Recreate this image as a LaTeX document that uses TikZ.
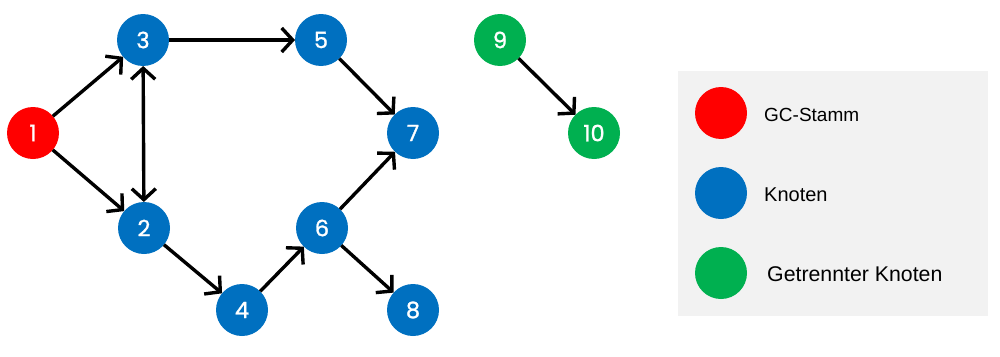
\documentclass[tikz,border=0pt]{standalone}
\usepackage{fontspec}
\setmainfont{Liberation Sans}
\newfontfamily\numfont{Poppins}[FakeBold=1.2]
\usetikzlibrary{arrows.meta}
\definecolor{gcred}{HTML}{FF0000}
\definecolor{kblue}{HTML}{0070C0}
\definecolor{kgreen}{HTML}{00B050}
\definecolor{legbg}{HTML}{F2F2F2}
\tikzset{
  vtx/.style={circle,minimum size=52pt,inner sep=0pt,outer sep=0pt,text=white,font=\numfont\fontsize{22.5pt}{22.5pt}\selectfont},
  redv/.style={vtx,fill=gcred},
  bluev/.style={vtx,fill=kblue},
  greenv/.style={vtx,fill=kgreen},
  barb/.tip={Straight Barb[length=11pt,width=24pt,line width=3.4pt]},
  edge/.style={line width=3.4pt,-barb},
  biedge/.style={line width=3.4pt,barb-barb},
  legtxt/.style={anchor=west,inner sep=0pt}
}
\begin{document}
\begin{tikzpicture}[x=1pt,y=-1pt]
\useasboundingbox (0,0) rectangle (1000,356);
\node[redv]  (n1)  at (33,133)  {1};
\node[bluev] (n3)  at (143,40)  {3};
\node[bluev] (n5)  at (321,40)  {5};
\node[bluev] (n7)  at (413,133) {7};
\node[bluev] (n2)  at (144,228) {2};
\node[bluev] (n4)  at (242,310) {4};
\node[bluev] (n6)  at (322,228) {6};
\node[bluev] (n8)  at (413,310) {8};
\node[greenv] (n9) at (500,40)  {9};
\node[greenv] (n10) at (594,133) {10};
\draw[edge] (n1) -- (n3);
\draw[edge] (n1) -- (n2);
\draw[biedge] (n3) -- (n2);
\draw[edge] (n3) -- (n5);
\draw[edge] (n5) -- (n7);
\draw[edge] (n2) -- (n4);
\draw[edge] (n4) -- (n6);
\draw[edge] (n6) -- (n7);
\draw[edge] (n6) -- (n8);
\draw[edge] (n9) -- (n10);
\node[fill=legbg,minimum width=310pt,minimum height=245pt,inner sep=0pt,anchor=north west] (leg) at (678,71) {};
\node[redv]   (l1) at (721,113) {};
\node[bluev]  (l2) at (721,193) {};
\node[greenv] (l3) at (721,273) {};
\node[legtxt,font=\fontsize{19pt}{19pt}\selectfont] (t1) at (764,115) {GC-Stamm};
\node[legtxt,font=\fontsize{20pt}{20pt}\selectfont] (t2) at (764,195) {Knoten};
\node[legtxt,font=\fontsize{21.3pt}{21.3pt}\selectfont] (t3) at (767,274) {Getrennter Knoten};
\end{tikzpicture}
\end{document}
